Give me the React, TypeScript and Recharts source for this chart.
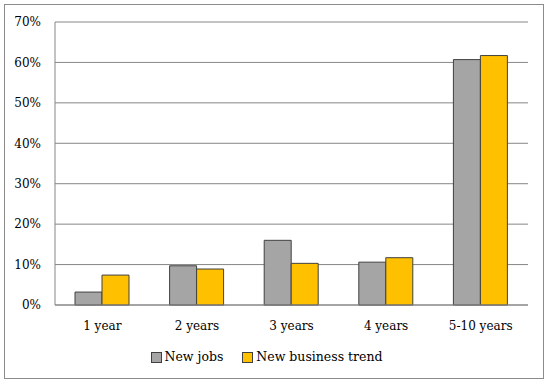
import React from "react";
import { BarChart, Bar, XAxis, YAxis, CartesianGrid, Legend } from "recharts";

const categories = ["1 year", "2 years", "3 years", "4 years", "5-10 years"];
const newJobs = [3.2, 9.7, 16.0, 10.6, 60.7];
const newBusinessTrend = [7.4, 8.9, 10.3, 11.7, 61.7];
const yTicks = [0, 10, 20, 30, 40, 50, 60, 70];
const seriesNames = ["New jobs", "New business trend"];
const seriesColors = ["#A5A5A5", "#FFC000"];

const data = categories.map((c, i) => ({
  name: c,
  jobs: newJobs[i],
  trend: newBusinessTrend[i],
}));

const FONT = "'DejaVu Serif', 'Liberation Serif', serif";
const FS = 12;

const LegendContent = () => {
  return (
    <div style={{ display: "flex", justifyContent: "center", alignItems: "center", fontFamily: FONT, fontSize: 12.5, color: "#000", lineHeight: "18px" }}>
      {seriesNames.map((n, i) => (
        <div key={i} style={{ display: "flex", alignItems: "center", marginLeft: i === 0 ? 0 : 19 }}>
          <span
            style={{
              display: "inline-block",
              width: 9,
              height: 9,
              background: seriesColors[i],
              border: "1px solid #404040",
              marginRight: 3,
            }}
          />
          <span>{n}</span>
        </div>
      ))}
    </div>
  );
};

export default function App() {
  return (
    <div style={{ position: "absolute", left: 0, top: 0, width: 550, height: 386, background: "#fff", fontFamily: FONT }}>
      <div
        style={{
          position: "absolute",
          left: 4,
          top: 4,
          width: 540,
          height: 375,
          border: "1px solid #8c8c8c",
          boxSizing: "border-box",
        }}
      />
      <div style={{ position: "absolute", left: 0, top: 0 }}>
        <BarChart
          width={550}
          height={386}
          data={data}
          margin={{ top: 22, right: 22, left: 5, bottom: 20 }}
          barGap={0}
          barSize={27}
        >
          <CartesianGrid vertical={false} stroke="#868686" strokeWidth={1} />
          <XAxis
            dataKey="name"
            tickLine={false}
            axisLine={{ stroke: "#868686" }}
            tick={{ fill: "#000", fontFamily: FONT, fontSize: FS }}
            tickSize={6}
            tickMargin={10}
            height={43}
          />
          <YAxis
            domain={[0, 70]}
            ticks={yTicks}
            tickFormatter={(v: number) => `${v}%`}
            tickLine={false}
            axisLine={{ stroke: "#868686" }}
            tick={{ fill: "#000", fontFamily: FONT, fontSize: FS }}
            tickSize={0}
            tickMargin={14}
            width={50}
            interval={0}
          />
          <Legend verticalAlign="bottom" content={<LegendContent />} />
          <Bar dataKey="jobs" name={seriesNames[0]} fill={seriesColors[0]} stroke="#404040" strokeWidth={1} isAnimationActive={false} />
          <Bar dataKey="trend" name={seriesNames[1]} fill={seriesColors[1]} stroke="#404040" strokeWidth={1} isAnimationActive={false} />
        </BarChart>
      </div>
    </div>
  );
}
